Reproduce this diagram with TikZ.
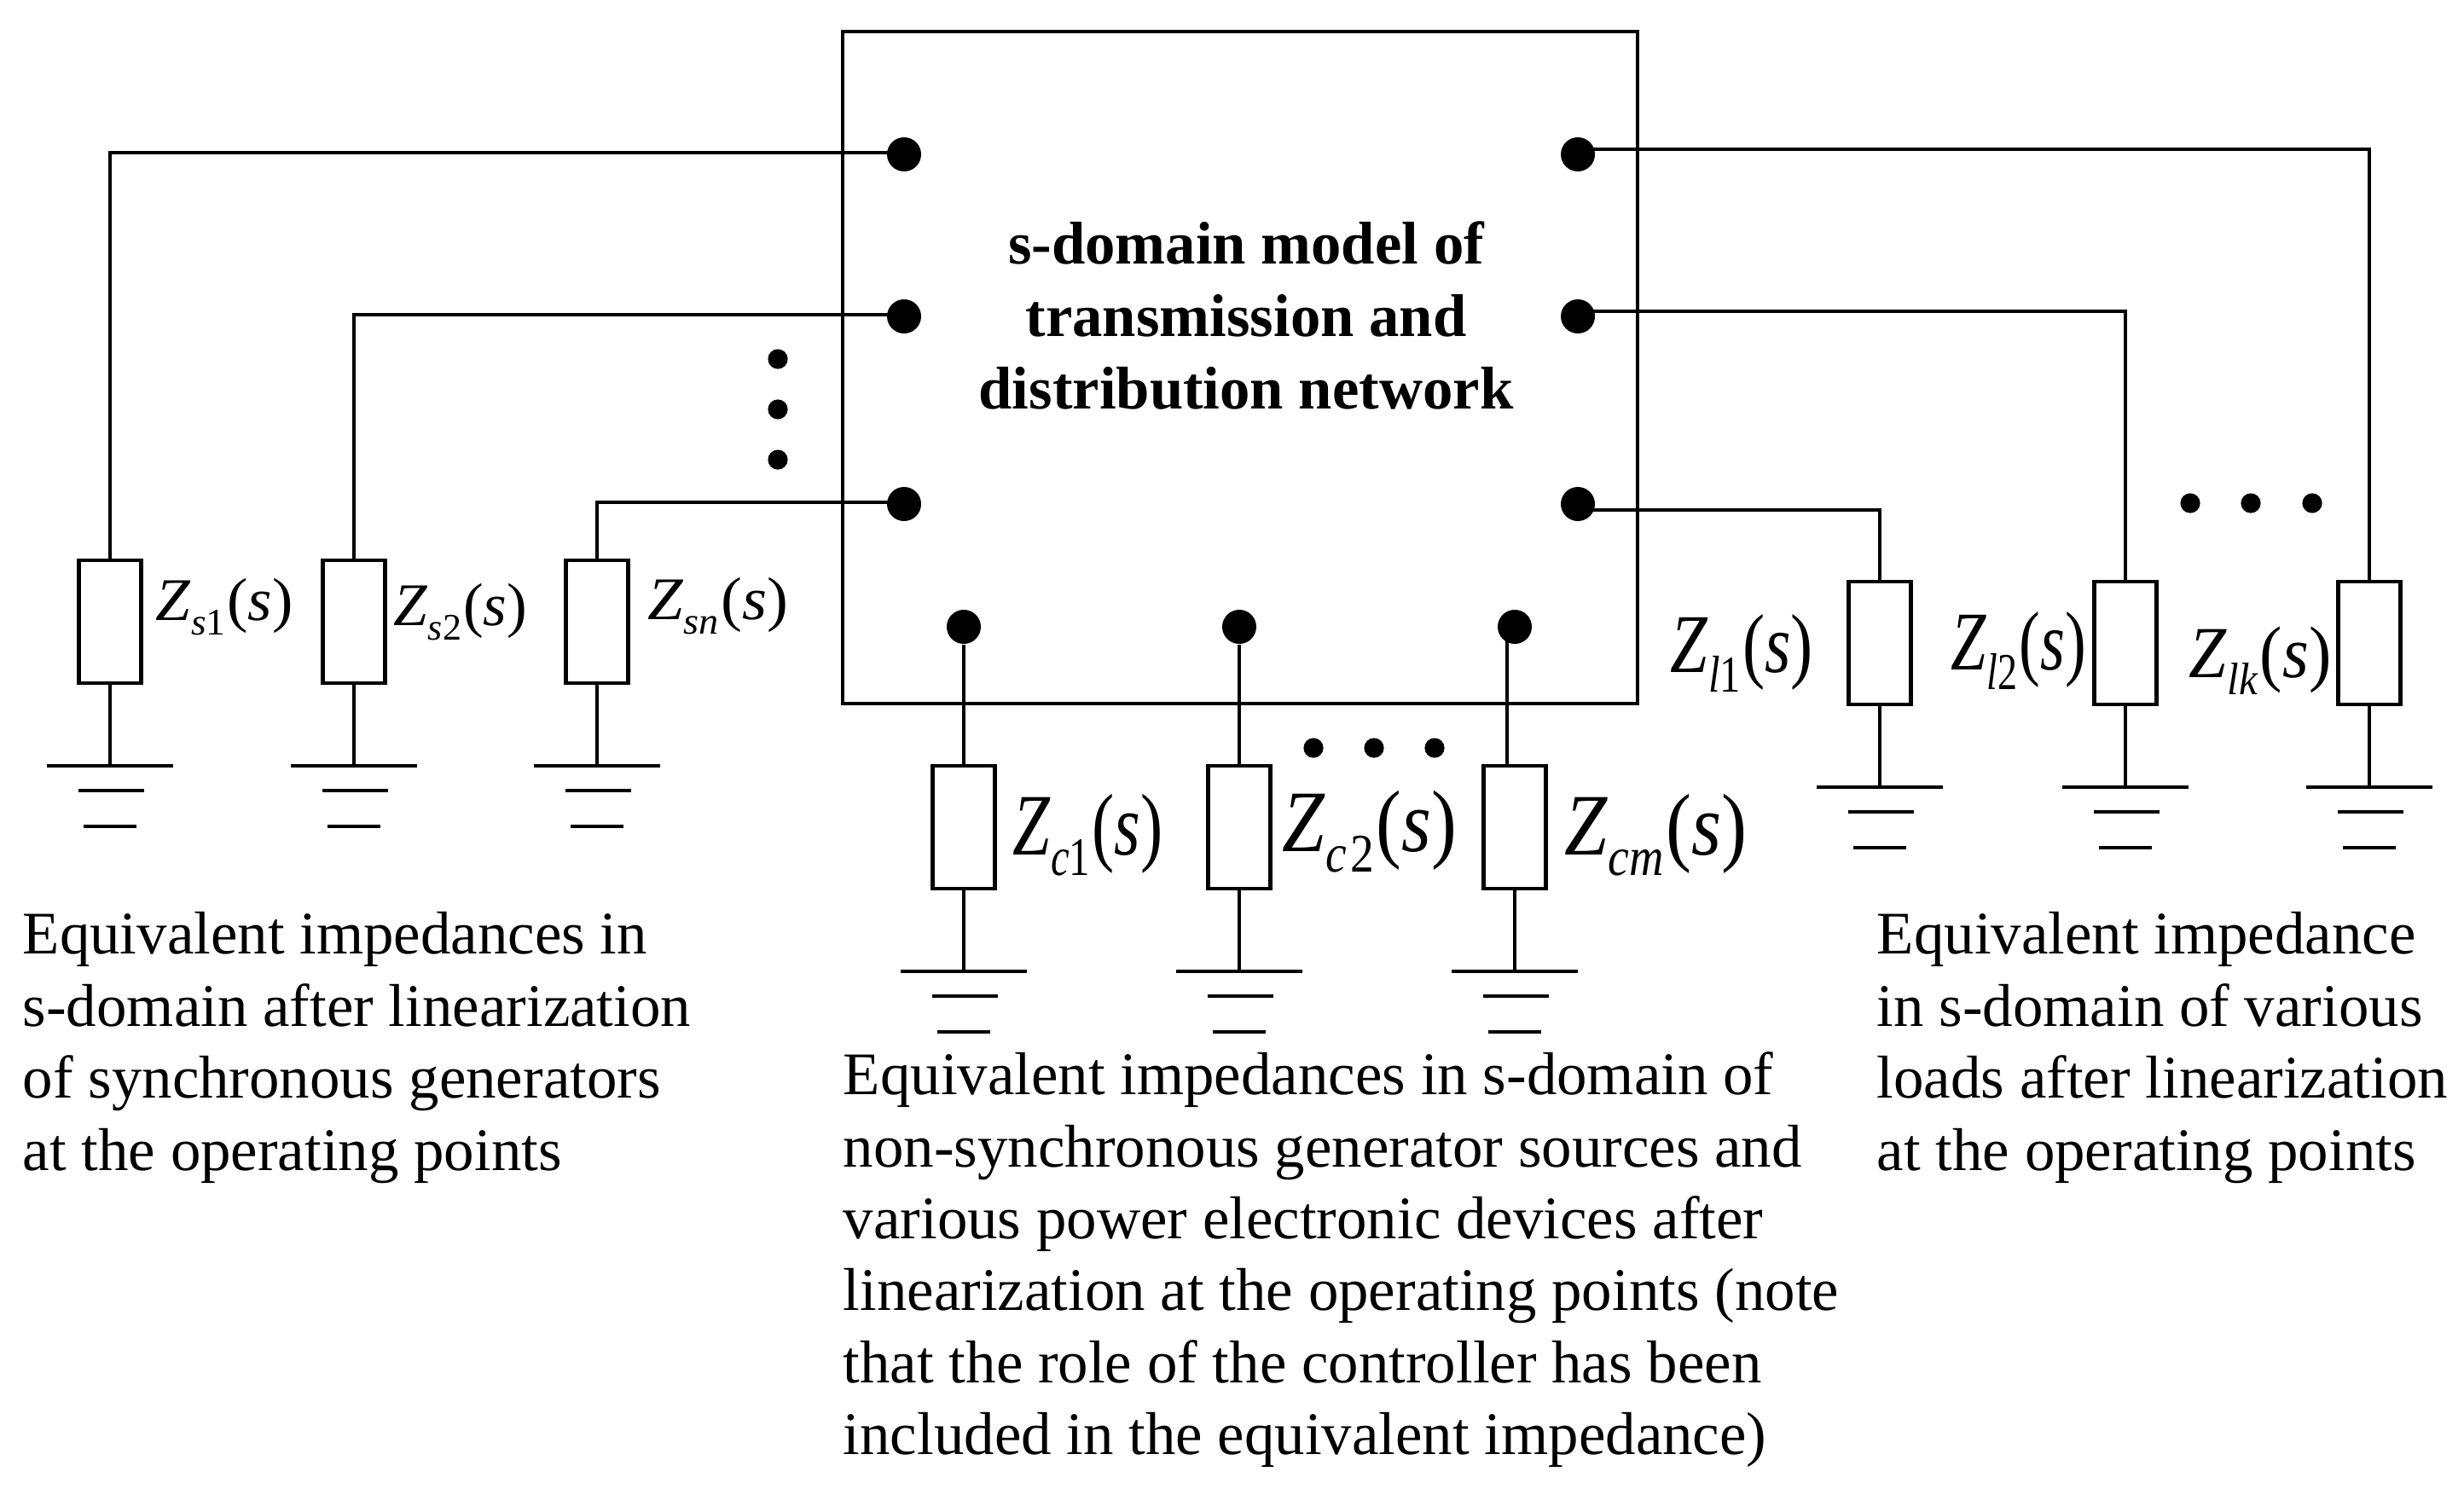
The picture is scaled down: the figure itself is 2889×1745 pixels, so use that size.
\documentclass[tikz,border=0pt]{standalone}
\usepackage{fontspec}
\usetikzlibrary{calc}
\setmainfont{Liberation Serif}
\newcommand{\imp}[3]{\scalebox{#2}[1]{\fontsize{#1}{#1}\selectfont\textit{Z}\raisebox{-0.24em}{\fontsize{0.62em}{0.62em}\selectfont #3}\hspace{0.03em}(\textit{s})}}
\tikzset{
  wire/.style={line width=1pt},
  frame/.style={draw,line width=1.2pt,minimum width=233pt,minimum height=197pt,inner sep=0pt},
  resbox/.style={draw,line width=1.2pt,fill=white,minimum width=18.25pt,minimum height=36pt,inner sep=0pt},
  port/.style={circle,fill=black,minimum size=10pt,inner sep=0pt},
  dotmark/.style={circle,fill=black,minimum size=5.8pt,inner sep=0pt},
  implabel/.style={anchor=base west,inner sep=0pt},
  caption/.style={anchor=north west,inner sep=0pt,align=left,font=\fontsize{17.72pt}{21.1pt}\selectfont},
}
\begin{document}
\begin{tikzpicture}[x=0.25pt,y=0.25pt,yscale=-1,xscale=1]
\useasboundingbox (0,0) rectangle (2889,1745);

%Network box
\node [frame] (net) at (1454,431) {};
\node [inner sep=0pt,align=center,font=\fontsize{17.68pt}{21.25pt}\selectfont\bfseries] (nettext) at (1461,370) {s-domain model of\\transmission and\\distribution network};

%Ports
\node [port] (pl1) at (1060,181) {};
\node [port] (pl2) at (1060,371) {};
\node [port] (pl3) at (1060,591) {};
\node [port] (pr1) at (1850,181) {};
\node [port] (pr2) at (1850,371) {};
\node [port] (pr3) at (1850,591) {};
\node [port] (pc1) at (1130,735) {};
\node [port] (pc2) at (1453,735) {};
\node [port] (pc3) at (1776,735) {};

%Impedances
\node [resbox] (rs1) at (129,729) {};
\node [resbox] (rs2) at (415,729) {};
\node [resbox] (rs3) at (700,729) {};
\node [resbox] (rc1) at (1130,970) {};
\node [resbox] (rc2) at (1453,970) {};
\node [resbox] (rc3) at (1776,970) {};
\node [resbox] (rl1) at (2204,754) {};
\node [resbox] (rl2) at (2492,754) {};
\node [resbox] (rl3) at (2778,754) {};

%Ground points
\coordinate (gs1) at (129,898);
\coordinate (gs2) at (415,898);
\coordinate (gs3) at (700,898);
\coordinate (gc1) at (1130,1139);
\coordinate (gc2) at (1453,1139);
\coordinate (gc3) at (1776,1139);
\coordinate (gl1) at (2204,923);
\coordinate (gl2) at (2492,923);
\coordinate (gl3) at (2778,923);

%Bends of the wires
\coordinate (bl1) at (129,179);
\coordinate (bl2) at (415,369);
\coordinate (bl3) at (700,589);
\coordinate (br1) at (2778,175);
\coordinate (br2) at (2492,365);
\coordinate (br3) at (2204,598);
\coordinate (bc3) at (1767,826);

%Wires
\draw [wire] (pl1.center |- bl1) -- (bl1) -- (rs1.north);
\draw [wire] (pl2.center |- bl2) -- (bl2) -- (rs2.north);
\draw [wire] (pl3.center |- bl3) -- (bl3) -- (rs3.north);
\draw [wire] (pr1.center |- br1) -- (br1) -- (rl3.north);
\draw [wire] (pr2.center |- br2) -- (br2) -- (rl2.north);
\draw [wire] (pr3.center |- br3) -- (br3) -- (rl1.north);
\draw [wire] (pc1) -- (rc1.north);
\draw [wire] (pc2) -- (rc2.north);
\draw [wire] (bc3 |- pc3.center) -- (bc3 |- rc3.north);

%Grounds
\foreach \r/\g in {rs1/gs1,rs2/gs2,rs3/gs3,rc1/gc1,rc2/gc2,rc3/gc3,rl1/gl1,rl2/gl2,rl3/gl3}{
  \draw [wire] (\r.south) -- (\g);
  \draw [line width=1.1pt] ($(\g)+(-74,0)$) -- ($(\g)+(74,0)$);
  \draw [line width=1.1pt] ($(\g)+(-37,29)$) -- ($(\g)+(40,29)$);
  \draw [line width=1.1pt] ($(\g)+(-31,71)$) -- ($(\g)+(31,71)$);
}

%Ellipsis marks
\foreach \n/\p in {dv1/{912,421},dv2/{912,480},dv3/{912,539},dc1/{1540,877},dc2/{1611,877},dc3/{1682,877},dr1/{2568,590},dr2/{2639,590},dr3/{2711,590}}{
  \node [dotmark] (\n) at (\p) {};
}

%Impedance labels
\node [implabel] (zs1) at (182,727) {\imp{17.75pt}{1.03}{\textit{s}1}};
\node [implabel] (zs2) at (461,733) {\imp{17.75pt}{1.0}{\textit{s}2}};
\node [implabel] (zs3) at (759,726) {\imp{17.75pt}{1.05}{\textit{sn}}};
\node [implabel] (zc1) at (1187,1002) {\imp{25.7pt}{0.765}{\textit{c}1}};
\node [implabel] (zc2) at (1503,998) {\imp{25.7pt}{0.87}{\textit{c}\kern0.08em 2}};
\node [implabel] (zc3) at (1834,1002) {\imp{25.7pt}{0.877}{\textit{cm}}};
\node [implabel] (zl1) at (1958,788) {\imp{24.5pt}{0.8}{\textit{l}1}};
\node [implabel] (zl2) at (2287,785) {\imp{24.5pt}{0.757}{\textit{l}2}};
\node [implabel] (zl3) at (2566,794) {\imp{21.5pt}{0.92}{\textit{lk}}};

%Captions
\node [caption] (capl) at (26,1069) {Equivalent impedances in\\s-domain after linearization\\of synchronous generators\\at the operating points};
\node [caption] (capc) at (988,1233) {Equivalent impedances in s-domain of\\non-synchronous generator sources and\\various power electronic devices after\\linearization at the operating points (note\\that the role of the controller has been\\included in the equivalent impedance)};
\node [caption] (capr) at (2200,1069) {Equivalent impedance\\in s-domain of various\\loads after linearization\\at the operating points};
\end{tikzpicture}
\end{document}
